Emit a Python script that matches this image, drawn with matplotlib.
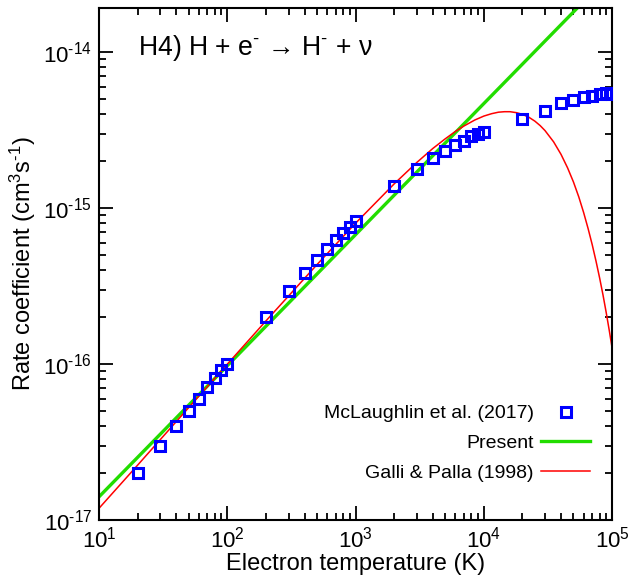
import numpy as np
import matplotlib
matplotlib.use('Agg')
import matplotlib.pyplot as plt
from matplotlib.ticker import FixedLocator, FuncFormatter, NullFormatter

plt.rcParams['font.family'] = ['Liberation Sans', 'DejaVu Sans']
plt.rcParams['mathtext.fontset'] = 'custom'
plt.rcParams['mathtext.rm'] = 'Liberation Sans'
plt.rcParams['mathtext.it'] = 'Liberation Sans:italic'
plt.rcParams['mathtext.bf'] = 'Liberation Sans:bold'

# === McLaughlin et al. (2017) points ===
mcl_T = [20, 30, 40, 50, 60, 70, 80, 90, 100,
         200, 300, 400, 500, 600, 700, 800, 900, 1000,
         2000, 3000, 4000, 5000, 6000, 7000, 8000, 9000, 10000,
         20000, 30000, 40000, 50000, 60000, 70000, 80000, 90000, 100000]
mcl_k = [1.99e-17, 3.0e-17, 4.03e-17, 5.0e-17, 6.0e-17, 7.1e-17, 8.1e-17, 9.2e-17, 1.0e-16,
         2.0e-16, 2.93e-16, 3.84e-16, 4.67e-16, 5.47e-16, 6.25e-16, 6.9e-16, 7.6e-16, 8.3e-16,
         1.39e-15, 1.78e-15, 2.09e-15, 2.34e-15, 2.54e-15, 2.70e-15, 2.88e-15, 2.98e-15, 3.07e-15,
         3.73e-15, 4.2e-15, 4.71e-15, 4.9e-15, 5.19e-15, 5.27e-15, 5.38e-15, 5.46e-15, 5.4e-15]

# === Present fit (straight line in log-log) ===
present_T = [10, 100000]
present_k = [1.41e-17, 3.24e-14]

# === Galli & Palla (1998) curve ===
gp_T = [10, 20, 50, 100, 200, 500, 1000, 2000, 3000, 4000, 5000, 6000, 7000, 8500,
        10000, 11500, 13000, 14500, 16000, 18000, 20000, 22500, 25000, 27500, 30000,
        35000, 40000, 45000, 50000, 55000, 60000, 65000, 70000, 75000, 80000,
        85000, 90000, 95000, 100000]
gp_k = [1.19e-17, 2.25e-17, 5.26e-17, 9.98e-17, 1.89e-16, 4.34e-16, 8.0e-16, 1.43e-15,
        1.96e-15, 2.41e-15, 2.78e-15, 3.10e-15, 3.36e-15, 3.67e-15,
        3.89e-15, 4.03e-15, 4.12e-15, 4.15e-15, 4.15e-15, 4.09e-15, 3.99e-15, 3.82e-15,
        3.61e-15, 3.38e-15, 3.14e-15,
        2.66e-15, 2.21e-15, 1.81e-15, 1.47e-15, 1.18e-15, 9.37e-16, 7.40e-16, 5.83e-16,
        4.56e-16, 3.56e-16, 2.77e-16, 2.14e-16, 1.65e-16, 1.27e-16]

# tick positions
x_major = [1e1, 1e2, 1e3, 1e4, 1e5]
y_major = [1e-17, 1e-16, 1e-15, 1e-14]

fig = plt.figure(figsize=(6.31, 5.76), dpi=100)
ax = fig.add_axes([0.157, 0.0972, 0.813, 0.889])

ax.plot(mcl_T, mcl_k, 's', color='#0000ff', mfc='none', mew=2.2, ms=7.5,
        linestyle='none', label='McLaughlin et al. (2017)', zorder=3)
ax.plot(present_T, present_k, '-', color='#22dd00', lw=2.4, label='Present', zorder=2)
ax.plot(gp_T, gp_k, '-', color='#ff0000', lw=1.1, label='Galli & Palla (1998)', zorder=2)

ax.set_xscale('log')
ax.set_yscale('log')
ax.set_xlim(10, 1e5)
ax.set_ylim(1e-17, 1.92e-14)

def log_fmt(v, pos):
    e = int(round(np.log10(v)))
    return r'$\mathregular{10^{\text{%d}}}$' % e

def minors(lo, hi):
    out = []
    for d in range(lo, hi):
        for m in range(2, 10):
            out.append(m * 10.0 ** d)
    return out

ax.xaxis.set_major_locator(FixedLocator(x_major))
ax.yaxis.set_major_locator(FixedLocator(y_major))
ax.xaxis.set_minor_locator(FixedLocator(minors(1, 5)))
ax.yaxis.set_minor_locator(FixedLocator([v for v in minors(-17, -13) if v <= 1.92e-14]))
ax.xaxis.set_major_formatter(FuncFormatter(log_fmt))
ax.yaxis.set_major_formatter(FuncFormatter(log_fmt))
ax.xaxis.set_minor_formatter(NullFormatter())
ax.yaxis.set_minor_formatter(NullFormatter())

ax.tick_params(which='both', direction='in', top=True, right=True, width=1.3,
               labelsize=16, pad=5)
ax.tick_params(which='major', length=10)
ax.tick_params(which='minor', length=5)
for s in ax.spines.values():
    s.set_linewidth(1.5)

ax.set_xlabel('Electron temperature (K)', fontsize=17, labelpad=0)
ax.set_ylabel(r'Rate coefficient (cm$^3$s$^{\text{-1}}$)', fontsize=17, labelpad=4)

ax.text(0.076, 0.922, r'H4) H + e$^{\text{-}}$ → H$^{\text{-}}$ + ν', transform=ax.transAxes,
        fontsize=19.2, va='center', ha='left')

leg = ax.legend(loc='lower right', bbox_to_anchor=(0.991, 0.04), frameon=False,
                markerfirst=False, fontsize=14, handlelength=2.5, labelspacing=0.63,
                handletextpad=0.4)

plt.savefig('out.png', dpi=100)
plt.close()
